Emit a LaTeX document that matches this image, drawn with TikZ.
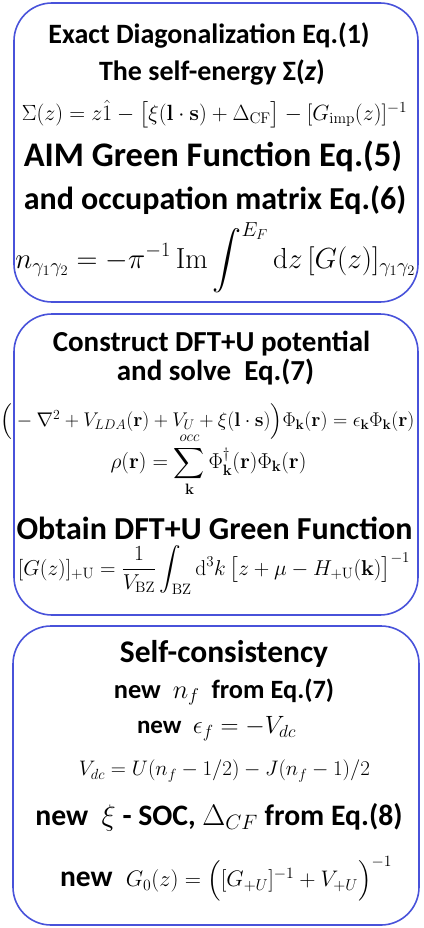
\RequirePackage{fix-cm}
\documentclass[tikz,border=0pt]{standalone}
\usepackage{amsmath,amssymb}
\usepackage[no-math]{fontspec}
\setmainfont{Carlito}
\definecolor{boxblue}{RGB}{72,82,218}

\begin{document}
\begin{tikzpicture}[
		x=1pt, y=-1pt,
		stagebox/.style={shape=rectangle, rounded corners=38pt, draw=boxblue, line width=1.6pt, inner sep=0pt},
		headtext/.style={font=\bfseries\fontsize{#1}{#1}\selectfont, inner sep=0pt},
		headtext/.default=28,
		eqtext/.style={font=\fontsize{#1}{#1}\selectfont, inner sep=0pt},
		eqtext/.default=16
		]
		\useasboundingbox (0,0) rectangle (423,928);
		% the three stages of the loop
		\node[stagebox, minimum width=404pt, minimum height=299pt] (ed) at (216,152.5) {};
		\node[stagebox, minimum width=404pt, minimum height=301pt] (dft) at (216,464.5) {};
		\node[stagebox, minimum width=406pt, minimum height=299pt] (sc) at (216,775.5) {};
		
		% exact diagonalization
		\node[headtext] (edtitle) at (209,35) {Exact Diagonalization Eq.(1)};
		\node[headtext] (sigmatitle) at (212,72) {The self-energy Σ(\textit{z})};
		\node[eqtext=22] (sigmaeq) at (214.5,114) {$\Sigma(z) = z\hat{1} - \big[\xi(\mathbf{l}\cdot\mathbf{s}) + \Delta_{\mathrm{CF}}\big] - [G_{\mathrm{imp}}(z)]^{-1}$};
		\node[headtext=34.5] (aimtitle) at (213,156) {AIM Green Function Eq.(5)};
		\node[headtext=32] (occtitle) at (215,200) {and occupation matrix Eq.(6)};
		\node[eqtext=29] (occeq) at (215.5,258) {$\displaystyle n_{\gamma_1\gamma_2} = -\pi^{-1}\,\mathrm{Im}\int^{E_F}\mathrm{d}z\,[G(z)]_{\gamma_1\gamma_2}$};
		
		% DFT+U step
		\node[headtext=29] (dfttitle) at (211.5,344) {Construct DFT+U potential};
		\node[headtext=29] (solvetitle) at (215.5,372) {and solve\ \ Eq.(7)};
		\node[eqtext=19.8] (kseq) at (207.5,422) {$\Big(-\nabla^2 + V_{LDA}(\mathbf{r}) + V_U + \xi(\mathbf{l}\cdot\mathbf{s})\Big)\Phi_{\mathbf{k}}(\mathbf{r}) = \epsilon_{\mathbf{k}}\Phi_{\mathbf{k}}(\mathbf{r})$};
		\node[eqtext=21.5] (rhoeq) at (208.5,465) {$\displaystyle \rho(\mathbf{r}) = \sum_{\mathbf{k}}^{occ}\Phi^{\dagger}_{\mathbf{k}}(\mathbf{r})\Phi_{\mathbf{k}}(\mathbf{r})$};
		\node[headtext=32] (greentitle) at (214.5,528) {Obtain DFT+U Green Function};
		\node[eqtext=21.5] (greeneq) at (214,570) {$\displaystyle [G(z)]_{+\mathrm{U}} = \frac{1}{V_{\mathrm{BZ}}}\int_{\mathrm{BZ}}\mathrm{d}^3k\,\big[z+\mu-H_{+\mathrm{U}}(\mathbf{k})\big]^{-1}$};
		
		% self-consistency
		\node[headtext=31.5] (sctitle) at (224,654) {Self-consistency};
		\node[headtext=26.4] (nfline) at (224,692) {new\ \ $n_f$\ \ from Eq.(7)};
		\node[headtext=25] (efline) at (216.5,729) {new\ \ $\epsilon_f = -V_{dc}$};
		\node[eqtext=21] (vdceq) at (224.5,771) {$V_{dc} = U(n_f-1/2) - J(n_f-1)/2$};
		\node[headtext=29.7] (socline) at (219,817) {new\ \ $\xi$ - SOC, $\Delta_{CF}$ from Eq.(8)};
		\node[headtext=29.5] (g0line) at (226,879) {new\ \ {\mdseries\fontsize{22.5}{22.5}\selectfont$G_0(z) = \Big([G_{+U}]^{-1} + V_{+U}\Big)^{-1}$}};
	\end{tikzpicture}
\end{document}
